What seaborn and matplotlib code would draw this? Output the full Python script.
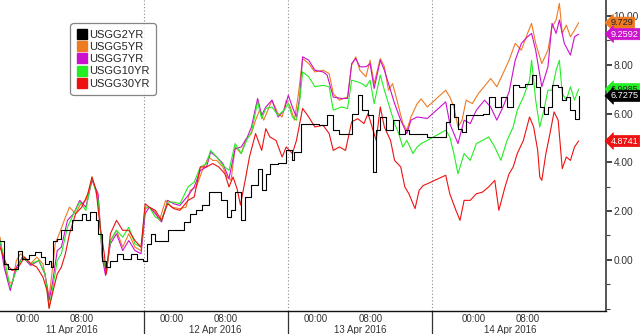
import matplotlib
matplotlib.use("Agg")
import matplotlib.pyplot as plt
from matplotlib.lines import Line2D
import seaborn as sns
import pandas as pd

# ---------------- data (x = position on Bloomberg's gapped intraday time axis) ----------------
t_2yr = [0,10,20,35,45,55,70,85,100,110,120,125,130,140,150,165,175,190,200,210,220,235,240,250,260,270,285,300,320,335,
         350,360,370,380,395,410,430,450,465,480,495,510,530,540,555,565,575,590,600,615,630,640,650,660,680,700,715,720,735,760,
         780,800,815,830,850,860,875,885,900,912,920,930,945,960,975,990,1000,1020,1045,1090,1100,1110,1120,1130,1140,1160,1180,1195,1210,1225,
         1240,1255,1270,1285,1300,1310,1320,1330,1340,1350,1365,1375,1385,1395,1405,1415]
v_2yr = [0.79,-0.16,-0.37,-0.37,0.38,0.04,0.18,0.32,0.11,-0.16,-0.03,-0.30,0.79,0.86,1.21,1.21,1.62,1.62,1.89,1.62,1.96,1.62,1.07,-0.03,-0.30,-0.03,0.25,0.04,0.25,0.04,
         -0.03,0.66,1.07,0.79,0.79,1.21,1.21,1.55,1.89,2.03,2.23,2.78,2.78,2.44,1.75,2.03,2.78,1.62,2.58,3.05,3.74,2.85,3.53,3.95,3.97,4.49,4.08,4.42,5.59,5.59,
         5.52,5.93,5.32,5.18,5.18,6.00,6.75,6.14,5.93,3.60,5.32,5.86,5.32,5.73,5.18,5.32,5.18,5.18,5.04,5.66,6.41,5.86,5.38,5.25,5.93,5.93,6.00,6.68,6.27,6.68,
         6.27,7.16,7.10,7.23,7.58,7.10,6.27,6.00,6.27,7.16,7.10,6.55,6.68,6.14,5.79,6.7275]

t_5yr = [0,10,20,30,40,50,60,75,90,105,115,120,125,135,145,160,170,185,195,210,225,240,250,260,270,285,300,315,330,345,
         355,365,380,390,405,420,440,455,465,480,495,510,520,530,545,555,565,575,590,600,615,625,635,645,655,665,680,690,700,710,
         720,730,740,755,770,790,805,815,830,850,860,870,880,895,905,915,930,940,950,960,970,985,995,1005,1020,1030,1045,1090,1100,1110,
         1120,1130,1140,1155,1170,1190,1200,1215,1230,1245,1260,1275,1290,1300,1310,1325,1340,1350,1360,1368,1375,1385,1395,1405,1415]
v_5yr = [0.93,-0.16,-0.85,-0.99,-0.03,0.25,0.11,-0.16,0.11,-0.16,-1.05,-1.53,-0.85,0.66,1.07,1.75,2.16,1.89,2.23,2.44,
         3.33,2.58,0.25,-0.58,0.79,1.21,0.52,1.07,0.52,0.38,2.10,2.16,1.96,1.62,2.44,2.16,2.10,2.16,2.85,2.99,
         3.67,4.22,4.08,4.08,3.81,3.40,3.26,4.63,4.36,4.90,5.18,5.73,6.14,5.73,6.14,6.55,6.00,5.86,6.55,6.27,
         5.73,6.82,8.26,8.05,7.71,7.78,7.64,6.82,6.55,6.68,7.99,8.33,7.78,7.51,8.19,7.23,8.26,7.92,6.96,7.23,
         6.60,5.60,5.32,5.86,6.40,6.60,6.27,6.96,6.68,6.27,5.45,5.73,6.55,6.41,6.82,7.23,7.44,7.10,7.64,8.19,
         8.88,8.60,9.29,9.70,8.88,8.05,8.60,9.56,9.84,10.52,9.29,9.63,9.15,9.42,9.729]

t_7yr = [0,10,25,40,55,75,95,110,120,128,140,150,165,180,195,210,225,240,250,258,270,285,300,315,330,345,355,365,380,395,
         410,425,440,460,475,490,505,515,530,545,560,575,590,605,615,630,640,650,665,680,695,705,715,725,733,740,755,770,790,800,
         815,835,850,860,870,880,895,905,915,930,940,955,965,980,995,1005,1020,1045,1090,1100,1110,1120,1135,1150,1165,1185,1200,1215,1230,1245,
         1260,1275,1290,1300,1310,1325,1340,1350,1360,1368,1380,1395,1405,1415]
v_7yr = [0.79,-0.30,-1.26,-0.30,0.11,-0.23,-0.03,-0.58,-1.67,-0.99,0.38,0.52,1.62,1.89,2.44,2.16,3.26,2.71,0.11,-0.64,
         0.66,1.07,0.38,0.79,0.38,0.25,1.89,2.16,1.89,1.55,2.44,2.30,2.23,2.64,2.99,3.67,3.81,4.42,4.22,3.95,
         3.33,4.56,4.63,5.04,5.45,6.62,5.93,6.27,6.55,5.86,6.14,6.75,6.27,5.86,6.68,8.33,8.19,7.78,7.71,7.58,
         6.68,6.62,6.62,8.05,8.26,7.92,7.92,8.05,7.03,8.19,7.78,6.96,6.41,5.73,5.18,5.73,5.86,5.80,6.48,5.59,
         5.18,4.77,5.73,5.59,6.14,6.55,6.27,5.73,6.27,6.89,8.19,8.88,9.15,9.29,8.60,7.10,7.92,9.70,9.29,9.84,
         8.88,8.40,9.15,9.2592]

t_10yr = [0,15,25,40,55,75,95,110,120,128,140,150,165,180,195,210,225,240,250,260,270,285,300,315,330,345,355,365,380,395,
          410,425,440,460,475,490,505,515,530,545,560,575,590,605,615,630,640,650,665,680,695,705,715,725,733,740,755,770,790,805,
          815,835,850,860,875,885,895,905,915,930,940,955,965,975,985,995,1010,1020,1030,1045,1090,1100,1110,1120,1135,1150,1165,1180,1195,1210,
          1225,1240,1255,1265,1280,1295,1300,1310,1320,1330,1340,1350,1360,1368,1375,1385,1395,1405,1415]
v_10yr = [0.79,-0.30,-1.12,-0.44,0.11,-0.16,-0.03,-0.58,-1.95,-1.26,-0.03,0.25,1.34,1.89,2.37,2.03,3.40,2.44,0.25,-0.44,
          0.79,1.21,0.93,1.34,0.66,0.52,2.16,2.16,1.75,1.62,2.37,2.37,2.30,2.99,3.19,3.81,3.95,4.49,4.22,3.88,
          3.67,4.77,4.36,4.97,5.25,6.48,5.79,6.21,6.27,5.93,6.14,6.41,5.86,5.73,6.55,7.71,7.51,7.10,7.16,7.10,
          6.14,6.27,6.21,7.37,7.30,7.23,7.10,7.37,6.41,7.58,6.96,6.14,5.59,5.18,4.63,4.90,4.36,4.63,4.77,4.90,
          5.32,5.04,4.36,3.53,4.36,4.08,4.77,4.90,5.04,4.63,4.08,4.90,5.45,6.14,6.68,7.37,8.19,6.55,5.45,6.14,
          6.96,6.96,7.78,8.19,6.82,6.55,7.10,6.55,6.9985]

t_30yr = [0,15,30,45,60,75,90,105,115,120,130,140,150,160,170,185,200,215,225,235,245,255,260,270,285,300,315,330,345,355,
          365,380,395,410,425,440,460,475,490,505,520,535,550,560,570,580,588,600,610,625,640,650,660,675,690,700,715,725,740,755,
          770,790,805,815,830,845,860,875,890,900,910,920,930,940,955,965,980,990,1000,1015,1025,1035,1045,1090,1100,1115,1125,1135,1150,1165,
          1180,1195,1210,1220,1235,1245,1255,1265,1280,1295,1305,1315,1320,1325,1335,1345,1355,1365,1375,1385,1395,1405,1415]
v_30yr = [0.52,-0.16,-0.44,-0.30,0.11,-0.16,-0.30,-0.71,-1.26,-2.00,-1.26,-0.58,-0.30,0.25,1.07,1.89,2.16,2.71,3.40,2.85,
          1.34,0.25,-0.58,1.07,1.62,1.21,1.21,0.79,0.52,2.30,2.16,2.03,1.62,2.30,2.10,2.03,2.44,2.58,3.81,3.81,
          3.95,3.81,3.53,2.99,3.40,2.90,2.25,3.30,4.22,5.18,4.49,5.38,5.04,4.90,4.22,4.63,4.36,4.90,6.21,5.86,
          5.45,5.52,5.18,4.49,4.63,4.49,5.66,5.79,5.59,6.00,5.45,4.90,6.27,5.45,4.90,4.08,3.81,2.99,2.71,2.10,
          2.85,3.05,3.12,3.47,2.71,2.03,1.62,2.44,2.44,2.71,2.78,2.99,3.26,2.03,2.99,3.53,3.81,4.36,4.90,5.86,
          5.45,4.49,3.40,3.26,4.36,5.18,6.07,5.73,3.74,4.22,4.08,4.63,4.8741]

series_names = ["USGG2YR", "USGG5YR", "USGG7YR", "USGG10YR", "USGG30YR"]
last_labels = ["6.7275", "9.729", "9.2592", "6.9985", "4.8741"]

# axis furniture
day_sep = [352, 705, 1057]
day_centers = [175, 527, 880, 1248]
day_labels = ["11 Apr 2016", "12 Apr 2016", "13 Apr 2016", "14 Apr 2016"]
hour_ticks = [68, 200, 420, 553, 772, 906, 1158, 1290]
hour_labels = ["00:00", "08:00"] * 4
minor_x = [134, 266, 486, 619, 838, 972, 1092, 1224, 1356, 1422]
y_major = [0, 2, 4, 6, 8, 10]
y_minor = [-2, -1, 1, 3, 5, 7, 9]

# ---------------- style ----------------
sns.set_style("white")
plt.rcParams["font.family"] = ["Liberation Sans", "DejaVu Sans"]

colors = {"USGG2YR": "#000000", "USGG5YR": "#ee7a22", "USGG7YR": "#cc11cc",
          "USGG10YR": "#22ee22", "USGG30YR": "#ee1111"}

fig = plt.figure(figsize=(6.4, 3.34), dpi=100)
ax = fig.add_axes([0.0, 0.0703, 606 / 640, 1 - 0.0703])

data = {
    "USGG2YR": (t_2yr, v_2yr),
    "USGG5YR": (t_5yr, v_5yr),
    "USGG7YR": (t_7yr, v_7yr),
    "USGG10YR": (t_10yr, v_10yr),
    "USGG30YR": (t_30yr, v_30yr),
}

draw_order = ["USGG5YR", "USGG7YR", "USGG10YR", "USGG30YR", "USGG2YR"]
for name in draw_order:
    t, v = data[name]
    df = pd.DataFrame({"t": t, "v": v})
    kw = {"drawstyle": "steps-post"} if name == "USGG2YR" else {}
    sns.lineplot(data=df, x="t", y="v", ax=ax, color=colors[name], linewidth=0.8,
                 estimator=None, sort=False, legend=False, **kw)

ax.set_xlim(0, 1482)
ax.set_ylim(-2.08, 10.66)
ax.set_xlabel("")
ax.set_ylabel("")

# spines
for s in ["left", "top"]:
    ax.spines[s].set_visible(False)
ax.spines["bottom"].set_color("#111111")
ax.spines["bottom"].set_linewidth(1.0)
ax.spines["right"].set_color("#555555")
ax.spines["right"].set_linewidth(1.4)

# y axis on right
ax.yaxis.tick_right()
ax.set_yticks(y_major)
ax.set_yticklabels([f"{v:.2f}" for v in y_major])
ax.set_yticks(y_minor, minor=True)
ax.tick_params(axis="y", which="major", direction="out", length=4, width=1.2,
               colors="#222222", labelsize=7.3, pad=1.5, labelcolor="#333333")
ax.tick_params(axis="y", which="minor", direction="out", length=3, width=0.8, colors="#444444")

# x axis
ax.set_xticks(hour_ticks)
ax.set_xticklabels(hour_labels)
ax.set_xticks(minor_x, minor=True)
ax.tick_params(axis="x", which="major", direction="out", length=2.5, width=0.8,
               colors="#333333", labelsize=7, pad=0.3, labelcolor="#333333")
ax.tick_params(axis="x", which="minor", direction="out", length=2.5, width=0.8, colors="#333333")

xtr = ax.get_xaxis_transform()
for xs in day_sep:
    ax.axvline(xs, color="#8a8a8a", linewidth=0.8, linestyle=(0, (1, 2)), zorder=0.5)
    ax.plot([xs, xs], [0, -0.09], transform=xtr, color="#333333", linewidth=0.9, clip_on=False)
for xc, lab in zip(day_centers, day_labels):
    ax.text(xc, -0.064, lab, transform=xtr, ha="center", va="center", fontsize=7, color="#333333")

# legend
handles = [Line2D([], [], marker="s", linestyle="none", markersize=6.5,
                  markerfacecolor=colors[n], markeredgecolor=colors[n]) for n in series_names]
leg = ax.legend(handles, series_names, loc="upper left", bbox_to_anchor=(0.118, 0.922),
                frameon=True, fancybox=True, fontsize=8, handletextpad=0.2, labelspacing=0.2,
                borderpad=0.5, handlelength=0.9, borderaxespad=0)
leg.get_frame().set_edgecolor("#666666")
leg.get_frame().set_linewidth(0.9)
leg.get_frame().set_boxstyle("round,pad=0.1,rounding_size=0.3")

# last-value tags on the right axis
tag_order = ["USGG5YR", "USGG7YR", "USGG10YR", "USGG2YR", "USGG30YR"]
txt_col = {"USGG2YR": "white", "USGG5YR": "#222222", "USGG7YR": "white",
           "USGG10YR": "#222222", "USGG30YR": "white"}
for name in tag_order:
    i = series_names.index(name)
    yv = data[name][1][-1]
    ax.annotate(last_labels[i], xy=(1.0, yv), xycoords=("axes fraction", "data"),
                xytext=(3.5, 0), textcoords="offset points", ha="left", va="center",
                fontsize=6.6, color=txt_col[name], annotation_clip=False,
                bbox=dict(boxstyle="larrow,pad=0.12", facecolor=colors[name],
                          edgecolor=colors[name], linewidth=0.5), zorder=5)

fig.savefig("out.png", dpi=100, facecolor="white")
